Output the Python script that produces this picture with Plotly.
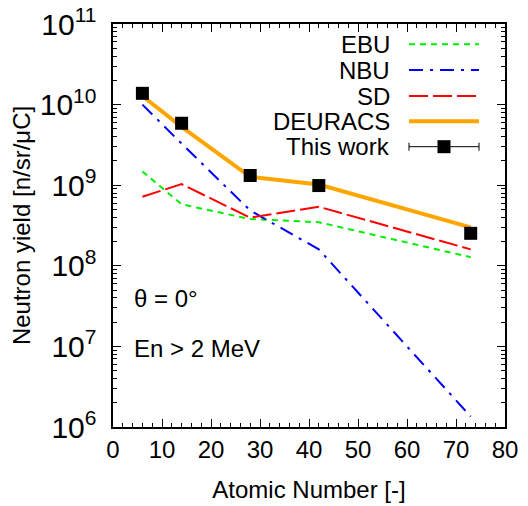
import plotly.graph_objects as go

# Data (atomic number Z, neutron yield)
z_exp = [6, 14, 28, 42, 73]
y_exp = [1.38e10, 5.87e9, 1.32e9, 9.9e8, 2.53e8]

z_calc = [6, 14, 28, 42, 73]
y_ebu = [1.48e9, 5.8e8, 3.8e8, 3.47e8, 1.28e8]
y_nbu = [1.0e10, 3.28e9, 4.85e8, 1.6e8, 1.35e6]
y_sd = [7.2e8, 1.03e9, 3.95e8, 5.4e8, 1.6e8]
y_deu = [1.28e10, 5.3e9, 1.27e9, 1.02e9, 3.0e8]

legend_names = ["EBU", "NBU", "SD", "DEURACS", "This work"]

FONT = "Liberation Sans, Arial, Helvetica, sans-serif"
FS = 24

# the page body has an 8px margin; target positions are in window pixels
OFF = 8
L, R, T, B = 113 - OFF, 505 - OFF, 24 - OFF, 427 - OFF
W, H = 528 - OFF, 506 - OFF

styles = {
    "EBU": dict(color="#00ee00", width=2, dash="6px,5px"),
    "NBU": dict(color="#0000ff", width=2, dash="14px,7px,3px,7px"),
    "SD": dict(color="#ff0000", width=2, dash="19px,5px"),
    "DEURACS": dict(color="#ffa500", width=4, dash="solid"),
}

fig = go.Figure()
for name, ys in [("EBU", y_ebu), ("NBU", y_nbu), ("SD", y_sd), ("DEURACS", y_deu)]:
    fig.add_trace(go.Scatter(x=z_calc, y=ys, mode="lines", line=styles[name],
                             showlegend=False, name=name))

fig.add_trace(go.Scatter(x=z_exp, y=y_exp, mode="markers", name="This work",
                         marker=dict(symbol="square", size=13, color="black"),
                         error_y=dict(type="percent", value=8, color="black", thickness=1, width=4),
                         showlegend=False))

# manual gnuplot-style legend on an auxiliary [0,1] axis pair (window pixel -> axis fraction)
def ax(px):
    return (px - OFF - L) / (R - L)

def ay(py):
    return (B - (py - OFF)) / (B - T)

rows = [44.3, 70.0, 96.0, 121.3, 146.7]
sx0, sx1 = ax(409), ax(479)
for name, py in zip(legend_names, rows):
    if name in styles:
        fig.add_trace(go.Scatter(x=[sx0, sx1], y=[ay(py), ay(py)], mode="lines",
                                 line=styles[name], xaxis="x2", yaxis="y2",
                                 showlegend=False, hoverinfo="skip"))
    else:
        fig.add_trace(go.Scatter(x=[(sx0 + sx1) / 2], y=[ay(py)], mode="markers",
                                 marker=dict(symbol="square", size=13, color="black"),
                                 error_x=dict(type="constant", value=(sx1 - sx0) / 2,
                                              color="black", thickness=1, width=4),
                                 xaxis="x2", yaxis="y2", showlegend=False, hoverinfo="skip"))
    fig.add_annotation(x=ax(392), y=ay(py), xref="x2", yref="y2", text=name,
                       showarrow=False, xanchor="right", yanchor="middle",
                       font=dict(family=FONT, size=FS, color="black"))

fig.add_annotation(x=ax(132), y=ay(298), xref="x2", yref="y2", text="θ = 0°",
                   showarrow=False, xanchor="left", yanchor="middle",
                   font=dict(family=FONT, size=FS, color="black"))
fig.add_annotation(x=ax(132), y=ay(348), xref="x2", yref="y2", text="En > 2 MeV",
                   showarrow=False, xanchor="left", yanchor="middle",
                   font=dict(family=FONT, size=FS, color="black"))

axis_common = dict(showline=True, linecolor="black", linewidth=1.5, mirror="allticks",
                   ticks="inside", ticklen=8, tickwidth=1, tickcolor="black",
                   showgrid=False, zeroline=False, automargin=False,
                   ticklabeloverflow="allow",
                   tickfont=dict(family=FONT, size=FS, color="black"))

fig.update_layout(
    width=W, height=H,
    margin=dict(l=L, r=W - R, t=T, b=H - B),
    paper_bgcolor="white", plot_bgcolor="white",
    font=dict(family=FONT, size=FS, color="black"),
    showlegend=False,
    xaxis=dict(range=[0, 80], dtick=10, tick0=0,
               title=dict(text="Atomic Number [-]", font=dict(family=FONT, size=FS), standoff=20),
               minor=dict(ticks="inside", dtick=2, ticklen=4, tickcolor="black", showgrid=False),
               **axis_common),
    yaxis=dict(type="log", range=[6, 11], dtick=1, exponentformat="power",
               ticklabelstandoff=10,
               title=dict(text="Neutron yield [n/sr/μC]", font=dict(family=FONT, size=FS), standoff=4),
               minor=dict(ticks="inside", ticklen=4, tickcolor="black", showgrid=False),
               **axis_common),
    xaxis2=dict(overlaying="x", range=[0, 1], visible=False),
    yaxis2=dict(overlaying="y", range=[0, 1], visible=False),
)

fig.write_html("out.html")
